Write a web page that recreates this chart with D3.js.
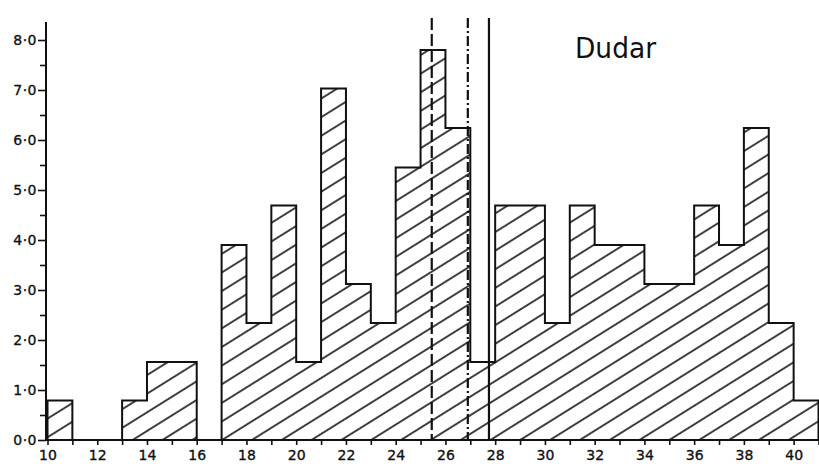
<!DOCTYPE html>
<html>
<head>
<meta charset="utf-8">
<script src="https://cdn.jsdelivr.net/npm/d3@7"></script>
<style>
  html, body { margin: 0; padding: 0; background: #fff; }
  svg { display: block; }
</style>
</head>
<body>
<svg id="chart" width="819" height="471"></svg>
<script>
// Bin start values (width 1) and their percentages
const binStarts = [10, 11, 12, 13, 14, 15, 16, 17, 18, 19, 20, 21, 22, 23, 24, 25, 26, 27, 28, 29, 30, 31, 32, 33, 34, 35, 36, 37, 38, 39, 40];
const percents  = [0.79, 0, 0, 0.79, 1.56, 1.56, 0, 3.9, 2.34, 4.69, 1.56, 7.03, 3.12, 2.34, 5.45, 7.8, 6.24, 1.56, 4.69, 4.69, 2.34, 4.69, 3.9, 3.9, 3.12, 3.12, 4.69, 3.9, 6.24, 2.34, 0.79];
const xTickValues = [10, 12, 14, 16, 18, 20, 22, 24, 26, 28, 30, 32, 34, 36, 38, 40];
const yTickValues = [0, 1, 2, 3, 4, 5, 6, 7, 8];
const refLines = [
  { x: 25.45, dash: "12,4" },
  { x: 26.9, dash: "10,3,2,3" },
  { x: 27.75, dash: null }
];
const title = "Dudar";

const svg = d3.select("#chart");
const x = d3.scaleLinear().domain([10, 41]).range([47.5, 818.5]);
const y = d3.scaleLinear().domain([0, 8.36]).range([440, 22]);

// hatch pattern
const defs = svg.append("defs");
defs.append("pattern")
  .attr("id", "hatch")
  .attr("patternUnits", "userSpaceOnUse")
  .attr("width", 12).attr("height", 15.8)
  .attr("patternTransform", "rotate(-32)")
  .append("line")
  .attr("x1", 0).attr("y1", 1).attr("x2", 12).attr("y2", 1)
  .attr("stroke", "#111").attr("stroke-width", 1.6);

const data = binStarts.map((b, i) => ({ start: b, v: percents[i] }));

// hatched fills (no outline)
svg.append("g").selectAll("rect").data(data.filter(d => d.v > 0)).join("rect")
  .attr("x", d => x(d.start))
  .attr("y", d => y(d.v))
  .attr("width", d => x(d.start + 1) - x(d.start) + 0.3)
  .attr("height", d => y(0) - y(d.v))
  .attr("fill", "url(#hatch)");

// outer step outline of the histogram
const last = data[data.length - 1];
const pts = [{ x: data[0].start, v: 0 }]
  .concat(data.map(d => ({ x: d.start, v: d.v })))
  .concat([{ x: last.start + 1, v: last.v }, { x: last.start + 1, v: 0 }]);
const stepLine = d3.line().x(d => x(d.x)).y(d => y(d.v)).curve(d3.curveStepAfter);
svg.append("path")
  .attr("d", stepLine(pts))
  .attr("fill", "none")
  .attr("stroke", "#111")
  .attr("stroke-width", 2)
  .attr("stroke-linejoin", "miter");

// reference lines
svg.append("g").selectAll("line").data(refLines).join("line")
  .attr("x1", d => x(d.x)).attr("x2", d => x(d.x))
  .attr("y1", 18).attr("y2", y(0))
  .attr("stroke", "#111")
  .attr("stroke-width", 2.2)
  .attr("stroke-dasharray", d => d.dash);

// x axis
const xAxis = d3.axisBottom(x)
  .tickValues(d3.range(10, 42))
  .tickSize(5)
  .tickFormat(d => xTickValues.includes(d) ? String(d) : "");
const gx = svg.append("g").attr("transform", `translate(0,${y(0)})`).call(xAxis);
gx.select(".domain").attr("d", `M${x(10) - 2},0H819`).attr("stroke", "#111").attr("stroke-width", 2);
gx.selectAll(".tick line").attr("stroke", "#111").attr("stroke-width", 1.6);
gx.selectAll(".tick text")
  .attr("y", 10)
  .attr("font-family", "DejaVu Sans, sans-serif")
  .attr("font-size", 14)
  .attr("fill", "#111")
  .attr("stroke", "#111")
  .attr("stroke-width", 0.35);

// y axis
const yAxis = d3.axisLeft(y)
  .tickValues(d3.range(0, 8.01, 0.5))
  .tickSize(6)
  .tickFormat(d => Number.isInteger(d) ? d + "\u00B70" : "");
const gy = svg.append("g").attr("transform", `translate(46,0)`).call(yAxis);
gy.select(".domain").attr("d", `M0,${y(0)}V22`).attr("stroke", "#111").attr("stroke-width", 2);
gy.selectAll(".tick line")
  .attr("x2", d => Number.isInteger(d) ? -8 : -6)
  .attr("stroke", "#111").attr("stroke-width", 1.6);
gy.selectAll(".tick text")
  .attr("x", -9)
  .attr("font-family", "DejaVu Sans, sans-serif")
  .attr("font-size", 14)
  .attr("letter-spacing", 0.5)
  .attr("fill", "#111")
  .attr("stroke", "#111")
  .attr("stroke-width", 0.35);

// title
svg.append("text")
  .attr("x", 575).attr("y", 58)
  .attr("font-family", "DejaVu Sans, sans-serif")
  .attr("font-size", 29)
  .attr("textLength", 81)
  .attr("lengthAdjust", "spacingAndGlyphs")
  .attr("fill", "#111")
  .text(title);
</script>
</body>
</html>
